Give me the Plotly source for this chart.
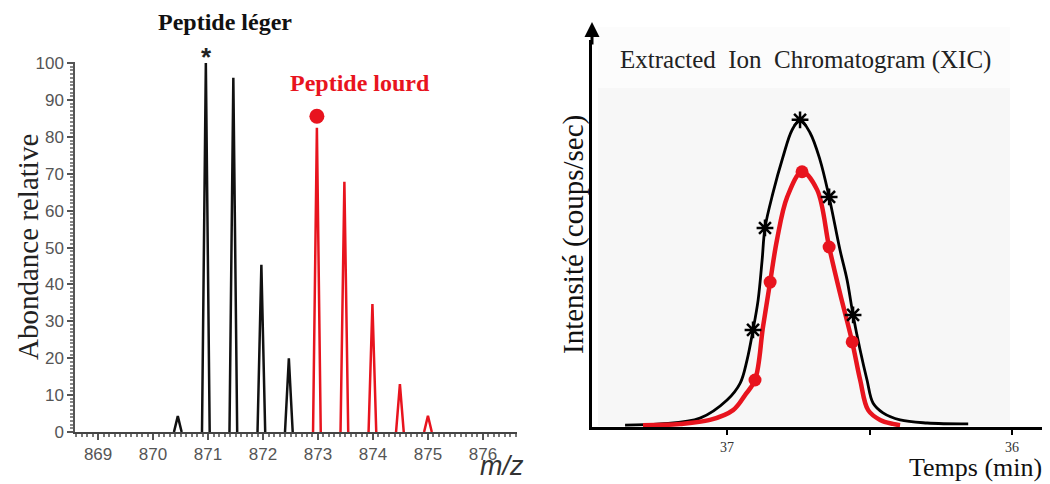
import plotly.graph_objects as go

W, H = 1050, 484
OFF = 8  # marge du body de la page html

# Spectre de masse (m/z, abondance relative)
light_mz = [870.45, 870.96, 871.46, 871.97, 872.47]
light_abund = [4.3, 100, 96, 45.3, 20]
heavy_mz = [872.98, 873.48, 873.99, 874.49, 875.0]
heavy_abund = [82.5, 67.8, 34.7, 13, 4.4]

mz_ticks = [869, 870, 871, 872, 873, 874, 875, 876]
abund_ticks = [0, 10, 20, 30, 40, 50, 60, 70, 80, 90, 100]

# XIC : temps (min) et intensite
light_t = [37.358, 37.235, 37.095, 37.0, 36.954, 36.93, 36.909, 36.891, 36.877, 36.867,
           36.839, 36.804, 36.772, 36.744, 36.709, 36.674, 36.642, 36.604, 36.579, 36.558,
           36.533, 36.509, 36.488, 36.453, 36.393, 36.298, 36.154]
light_i = [0.6, 1.0, 2.9, 8.8, 14.3, 21.8, 31.6, 41.4, 54.4, 64.8,
           76.2, 87.9, 96.7, 100, 95.8, 87.0, 74.9, 57.7, 47.9, 36.5,
           25.0, 15.3, 7.8, 4.6, 2.3, 1.3, 1.0]
heavy_t = [37.295, 37.165, 37.06, 36.979, 36.937, 36.902, 36.874, 36.849, 36.825, 36.789,
           36.737, 36.684, 36.642, 36.604, 36.561, 36.533, 36.505, 36.463, 36.418, 36.393]
heavy_i = [0.6, 1.0, 2.3, 5.5, 10.4, 15.3, 32.6, 47.2, 60.9, 74.9,
           83.1, 77.2, 58.6, 43.6, 27.7, 15.3, 5.5, 2.3, 1.0, 0.6]

light_star_t = [36.909, 36.867, 36.744, 36.642, 36.558]
light_star_i = [31.6, 64.8, 100, 74.9, 36.5]
heavy_dot_t = [36.902, 36.849, 36.737, 36.642, 36.561]
heavy_dot_i = [15.3, 47.2, 83.1, 58.6, 27.7]

time_ticks = [37, 36.5, 36]
time_labels = ["37", "", "36"]

RED = "#e8141e"
SERIF = "Liberation Serif"
SANS = "Liberation Sans"

MZ_RANGE = [868.58, 876.62]
MZ_PX = [75, 517]


def px(x):
    return (x - OFF) / W


def py(y):
    return 1 - (y - OFF) / H


def mz_to_px(mz):
    return MZ_PX[0] + (mz - MZ_RANGE[0]) / (MZ_RANGE[1] - MZ_RANGE[0]) * (MZ_PX[1] - MZ_PX[0])


def peak_profile(centers, heights, hw=0.07):
    xs, ys = [], []
    for c, h in zip(centers, heights):
        xs += [c - hw, c, c + hw, None]
        ys += [0, h, 0, None]
    return xs, ys


def label(text, x, y, size, color="#111", family=SERIF, angle=0, xanchor="center"):
    return dict(text=text, x=px(x), y=py(y), xref="paper", yref="paper", showarrow=False,
                xanchor=xanchor, yanchor="middle", textangle=angle,
                font=dict(family=family, size=size, color=color))


fig = go.Figure()

lx, ly = peak_profile(light_mz, light_abund)
hx, hy = peak_profile(heavy_mz, heavy_abund)
fig.add_trace(go.Scatter(x=lx, y=ly, mode="lines", line=dict(color="#111", width=2.5),
                         xaxis="x", yaxis="y", showlegend=False, hoverinfo="skip"))
fig.add_trace(go.Scatter(x=hx, y=hy, mode="lines", line=dict(color=RED, width=2.5),
                         xaxis="x", yaxis="y", showlegend=False, hoverinfo="skip"))

# point au-dessus du pic mono-isotopique lourd
fig.add_trace(go.Scatter(x=[heavy_mz[0]], y=[85.6], mode="markers",
                         marker=dict(color=RED, size=15), cliponaxis=False,
                         xaxis="x", yaxis="y", showlegend=False))

# XIC
fig.add_trace(go.Scatter(x=light_t, y=light_i, mode="lines", line=dict(color="#000", width=2.8, shape="spline"),
                         xaxis="x2", yaxis="y2", showlegend=False))
fig.add_trace(go.Scatter(x=heavy_t, y=heavy_i, mode="lines", line=dict(color=RED, width=4.5, shape="spline"),
                         xaxis="x2", yaxis="y2", showlegend=False))
fig.add_trace(go.Scatter(x=light_star_t, y=light_star_i, mode="markers",
                         marker=dict(symbol="asterisk-open", size=14, color="#000",
                                     line=dict(color="#000", width=2.5)),
                         xaxis="x2", yaxis="y2", showlegend=False))
fig.add_trace(go.Scatter(x=heavy_dot_t, y=heavy_dot_i, mode="markers",
                         marker=dict(color=RED, size=13),
                         xaxis="x2", yaxis="y2", showlegend=False))

fig.update_layout(
    width=W, height=H,
    margin=dict(l=0, r=0, t=0, b=0, pad=0, autoexpand=False),
    paper_bgcolor="white", plot_bgcolor="rgba(0,0,0,0)",
    xaxis=dict(domain=[px(MZ_PX[0]), px(MZ_PX[1])], range=MZ_RANGE, anchor="y", automargin=False,
               tickvals=mz_ticks, ticks="outside", ticklen=6, tickwidth=1.5, tickcolor="#555",
               minor=dict(dtick=0.1, ticklen=3, tickcolor="#777", ticks="outside"),
               showline=True, linecolor="#444", linewidth=2, showgrid=False, zeroline=False,
               tickfont=dict(family=SANS, size=17, color="#555")),
    yaxis=dict(domain=[py(432), py(62)], range=[0, 100.3], anchor="x", automargin=False,
               tickvals=abund_ticks, ticks="outside", ticklen=6, tickwidth=1.5, tickcolor="#555",
               minor=dict(dtick=1, ticklen=3, tickcolor="#888", ticks="outside"),
               showline=True, linecolor="#555", linewidth=1.5, showgrid=False, zeroline=False,
               tickfont=dict(family=SANS, size=17, color="#555")),
    xaxis2=dict(domain=[px(592), 1.0], range=[37.474, 37.474 - (W + OFF - 592) / 285], anchor="y2",
                automargin=False,
                tickvals=time_ticks, ticktext=time_labels, ticks="outside", ticklen=5, tickwidth=2,
                tickcolor="#000", showline=True, linecolor="#000", linewidth=3,
                showgrid=False, zeroline=False,
                tickfont=dict(family=SERIF, size=14, color="#333")),
    yaxis2=dict(domain=[py(427), py(40)], range=[0, 126], anchor="x2", automargin=False,
                showticklabels=False, ticks="", showline=True, linecolor="#000", linewidth=3,
                showgrid=False, zeroline=False),
    shapes=[
        dict(type="rect", xref="paper", yref="paper", x0=px(598), x1=px(1010), y0=py(426), y1=py(88),
             fillcolor="#f7f7f7", line=dict(width=0), layer="below"),
        dict(type="rect", xref="paper", yref="paper", x0=px(598), x1=px(1010), y0=py(88), y1=py(27),
             fillcolor="#fcfcfc", line=dict(width=0), layer="below"),
    ],
    annotations=[
        label("<b>Peptide léger</b>", 225, 22, 24),
        label("<b>*</b>", mz_to_px(light_mz[1]) + 1, 57, 26, color="#222", family=SANS),
        label("<b>Peptide lourd</b>", 360, 83, 24, color=RED),
        label("Abondance relative", 28, 247, 29, color="#222", angle=-90),
        label("<i>m/z</i>", 526, 466, 27, color="#333", family=SANS, xanchor="right"),
        label("Extracted\u00a0 Ion\u00a0 Chromatogram (XIC)", 805, 60, 25, color="#222"),
        label("Intensité (coups/sec)", 573, 235, 29, angle=-90),
        label("Temps (min)", 975, 467, 26),
        # fleche de l'axe des intensites
        dict(text="", x=px(592), y=py(22), xref="paper", yref="paper", ax=0, ay=24,
             showarrow=True, arrowhead=2, arrowsize=1, arrowwidth=3, arrowcolor="#000"),
    ],
)

fig.write_html("out.html")
